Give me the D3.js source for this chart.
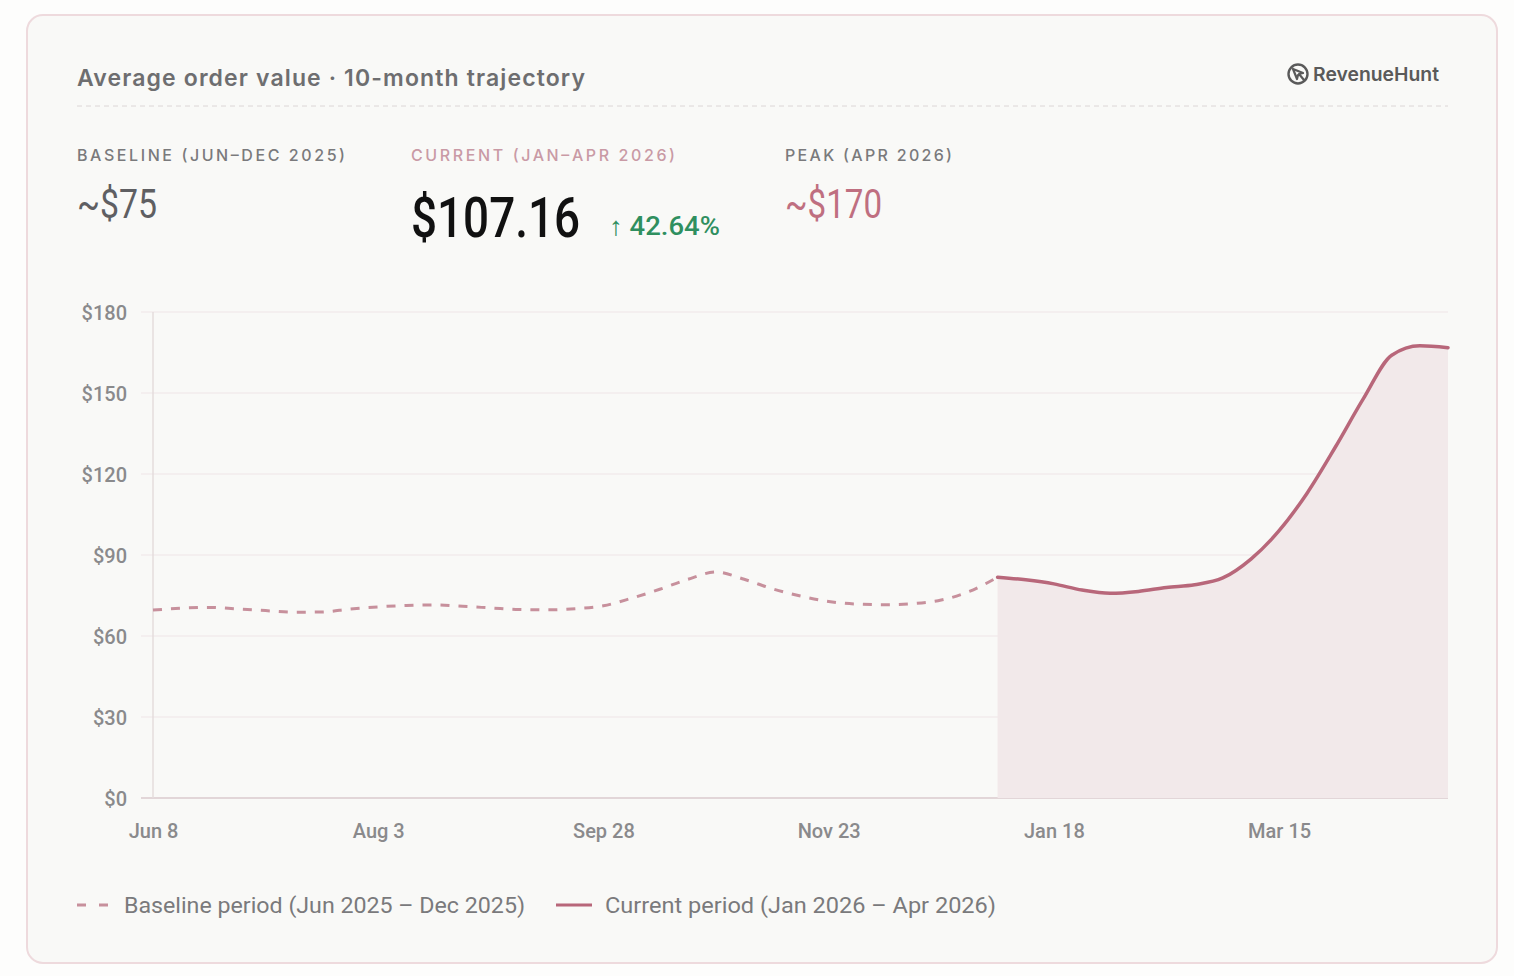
<!DOCTYPE html>
<html>
<head>
<meta charset="utf-8">
<script src="https://cdn.jsdelivr.net/npm/d3@7"></script>
<style>
  html, body { margin: 0; padding: 0; background: #fdfdfc; }
  svg { display: block; }
</style>
</head>
<body>
<div id="chart"></div>
<script>
// Data
const startDate = new Date(2025, 5, 8)
const endDate = new Date(2026, 3, 26)
const baselineValues = [69.6, 70.3, 70.6, 70.0, 69.4, 68.8, 68.9, 70.0, 70.8, 71.3,
  71.5, 71.0, 70.4, 69.8, 69.7, 70.1, 71.2, 74.0, 77.3, 81.0,
  83.7, 81.0, 77.5, 74.8, 72.8, 71.8, 71.6, 72.0, 73.3, 76.5, 81.8]
const currentValues = [81.8, 80.8, 79.3, 77.0, 75.8, 76.5, 78.0, 79.0, 81.5, 88.5,
  99.0, 113, 130, 148, 164, 167.5, 166.8]
const yTicks = [0, 30, 60, 90, 120, 150, 180]
const stats = [
  { label: 'BASELINE (JUN–DEC 2025)', value: '~$75', kind: 'base' },
  { label: 'CURRENT (JAN–APR 2026)', value: '$107.16', change: '↑ 42.64%', kind: 'current' },
  { label: 'PEAK (APR 2026)', value: '~$170', kind: 'peak' }
]
const legendItems = [
  { label: 'Baseline period (Jun 2025 – Dec 2025)', dashed: true },
  { label: 'Current period (Jan 2026 – Apr 2026)', dashed: false }
]

const weeks = d3.timeDay.range(startDate, d3.timeDay.offset(endDate, 1), 7)
const baseline = baselineValues.map((v, i) => ({ date: weeks[i], value: v }))
const current = currentValues.map((v, i) => ({ date: weeks[i + 30], value: v }))

// Dimensions
const width = 1514, height = 976
const margin = { left: 153, right: 66, top: 312, bottom: 178 }

const svg = d3.select('#chart').append('svg')
  .attr('width', width)
  .attr('height', height)

// card
svg.append('rect')
  .attr('x', 27).attr('y', 15)
  .attr('width', 1470).attr('height', 948)
  .attr('rx', 16)
  .attr('fill', '#f9f9f7')
  .attr('stroke', '#eedadd')
  .attr('stroke-width', 2)

// header
svg.append('text')
  .attr('x', 77).attr('y', 86)
  .attr('font-family', 'Inter, sans-serif')
  .attr('font-size', 23).attr('font-weight', 600)
  .attr('fill', '#6e6e70')
  .attr('textLength', 508).attr('lengthAdjust', 'spacing')
  .text('Average order value · 10-month trajectory')

svg.append('line')
  .attr('x1', 77).attr('x2', 1448)
  .attr('y1', 106).attr('y2', 106)
  .attr('stroke', '#dcd6d6')
  .attr('stroke-dasharray', '5,4')

// logo
const logo = svg.append('g').attr('transform', 'translate(1298,74)')
logo.append('circle').attr('r', 9.5).attr('fill', 'none').attr('stroke', '#5a5a5a').attr('stroke-width', 2.4)
logo.append('path')
  .attr('d', 'M-5,-5 L5,-1 L1,0 L6,6 M-5,-5 L-1,5 L0,1')
  .attr('fill', 'none').attr('stroke', '#5a5a5a').attr('stroke-width', 2.2)
  .attr('stroke-linejoin', 'round').attr('stroke-linecap', 'round')
logo.append('text')
  .attr('x', 15).attr('y', 7)
  .attr('font-family', 'Inter, sans-serif')
  .attr('font-size', 19).attr('font-weight', 600)
  .attr('fill', '#5a5a5a')
  .attr('textLength', 126).attr('lengthAdjust', 'spacingAndGlyphs')
  .text('RevenueHunt')

// stats
const statX = [77, 411, 785]
const labelLen = [268, 264, 167]
const labelColor = { base: '#7a7a7c', current: '#c99aa5', peak: '#7a7a7c' }
const valueColor = { base: '#5f5f62', current: '#111111', peak: '#bf6f80' }
stats.forEach((s, i) => {
  const g = svg.append('g').attr('transform', `translate(${statX[i]},0)`)
  g.append('text')
    .attr('y', 161)
    .attr('font-family', 'Inter, sans-serif')
    .attr('font-size', 16).attr('font-weight', 500)
    .attr('fill', labelColor[s.kind])
    .attr('textLength', labelLen[i]).attr('lengthAdjust', 'spacing')
    .text(s.label)
  if (s.kind === 'current') {
    g.append('text')
      .attr('y', 237)
      .attr('font-family', 'Roboto, sans-serif')
      .attr('font-size', 56).attr('font-weight', 500)
      .attr('textLength', 169).attr('lengthAdjust', 'spacingAndGlyphs')
      .attr('fill', valueColor[s.kind])
      .text(s.value)
    g.append('text')
      .attr('x', 198).attr('y', 235)
      .attr('font-family', 'Roboto, sans-serif')
      .attr('font-size', 26).attr('font-weight', 500)
      .attr('textLength', 111).attr('lengthAdjust', 'spacingAndGlyphs')
      .attr('fill', '#2f8f5f')
      .text(s.change)
  } else {
    g.append('text')
      .attr('y', 218)
      .attr('font-family', 'Roboto, sans-serif')
      .attr('font-size', 40)
      .attr('textLength', s.kind === 'base' ? 80 : 97).attr('lengthAdjust', 'spacingAndGlyphs')
      .attr('fill', valueColor[s.kind])
      .text(s.value)
  }
})

// scales
const x = d3.scaleTime()
  .domain([startDate, endDate])
  .range([margin.left, width - margin.right])
const y = d3.scaleLinear()
  .domain([0, 180])
  .range([height - margin.bottom, margin.top])

// grid
svg.append('g')
  .selectAll('line')
  .data(yTicks)
  .join('line')
  .attr('x1', margin.left - 12).attr('x2', width - margin.right)
  .attr('y1', d => y(d)).attr('y2', d => y(d))
  .attr('stroke', d => d === 0 ? '#e2d6d8' : '#efe6e7')
  .attr('stroke-width', d => d === 0 ? 2 : 1.2)

svg.append('line')
  .attr('x1', margin.left).attr('x2', margin.left)
  .attr('y1', y(180)).attr('y2', y(0))
  .attr('stroke', '#e4dcdd').attr('stroke-width', 1.5)

// axes
const yAxis = svg.append('g')
  .attr('transform', `translate(${margin.left - 23},0)`)
  .call(d3.axisLeft(y).tickValues(yTicks).tickSize(0).tickFormat(d => '$' + d))
yAxis.select('.domain').remove()
yAxis.selectAll('text')
  .attr('font-family', 'Roboto, sans-serif')
  .attr('font-size', 20).attr('font-weight', 500)
  .attr('fill', '#8a8a8c')
  .attr('dy', '0.35em')

const xAxis = svg.append('g')
  .attr('transform', `translate(0,${height - margin.bottom + 23})`)
  .call(d3.axisBottom(x)
    .tickValues(d3.timeDay.range(startDate, endDate, 56))
    .tickSize(0)
    .tickFormat(d3.timeFormat('%b %-d')))
xAxis.select('.domain').remove()
xAxis.selectAll('text')
  .attr('font-family', 'Roboto, sans-serif')
  .attr('font-size', 20).attr('font-weight', 500)
  .attr('fill', '#8a8a8c')
  .attr('dy', '0.71em')

// area + lines
const curve = d3.curveMonotoneX
svg.append('path')
  .datum(current)
  .attr('fill', '#f2e9ea')
  .attr('d', d3.area().curve(curve).x(d => x(d.date)).y0(y(0)).y1(d => y(d.value)))

svg.append('path')
  .datum(baseline)
  .attr('fill', 'none')
  .attr('stroke', '#c7909c')
  .attr('stroke-width', 3)
  .attr('stroke-dasharray', '9,9')
  .attr('d', d3.line().curve(curve).x(d => x(d.date)).y(d => y(d.value)))

svg.append('path')
  .datum(current)
  .attr('fill', 'none')
  .attr('stroke', '#b8677a')
  .attr('stroke-width', 3.5)
  .attr('stroke-linecap', 'round')
  .attr('d', d3.line().curve(curve).x(d => x(d.date)).y(d => y(d.value)))

// legend
const legendX = [77, 556]
legendItems.forEach((item, i) => {
  const g = svg.append('g').attr('transform', `translate(${legendX[i]},905)`)
  g.append('line')
    .attr('x1', 0).attr('x2', item.dashed ? 34 : 36)
    .attr('stroke', item.dashed ? '#c7909c' : '#b8677a')
    .attr('stroke-width', 3)
    .attr('stroke-dasharray', item.dashed ? '9,13' : null)
  g.append('text')
    .attr('x', item.dashed ? 47 : 49).attr('y', 8)
    .attr('font-family', 'Roboto, sans-serif')
    .attr('font-size', 22)
    .attr('fill', '#7a7a7c')
    .attr('textLength', item.dashed ? 401 : 391).attr('lengthAdjust', 'spacingAndGlyphs')
    .text(item.label)
})
</script>
</body>
</html>
